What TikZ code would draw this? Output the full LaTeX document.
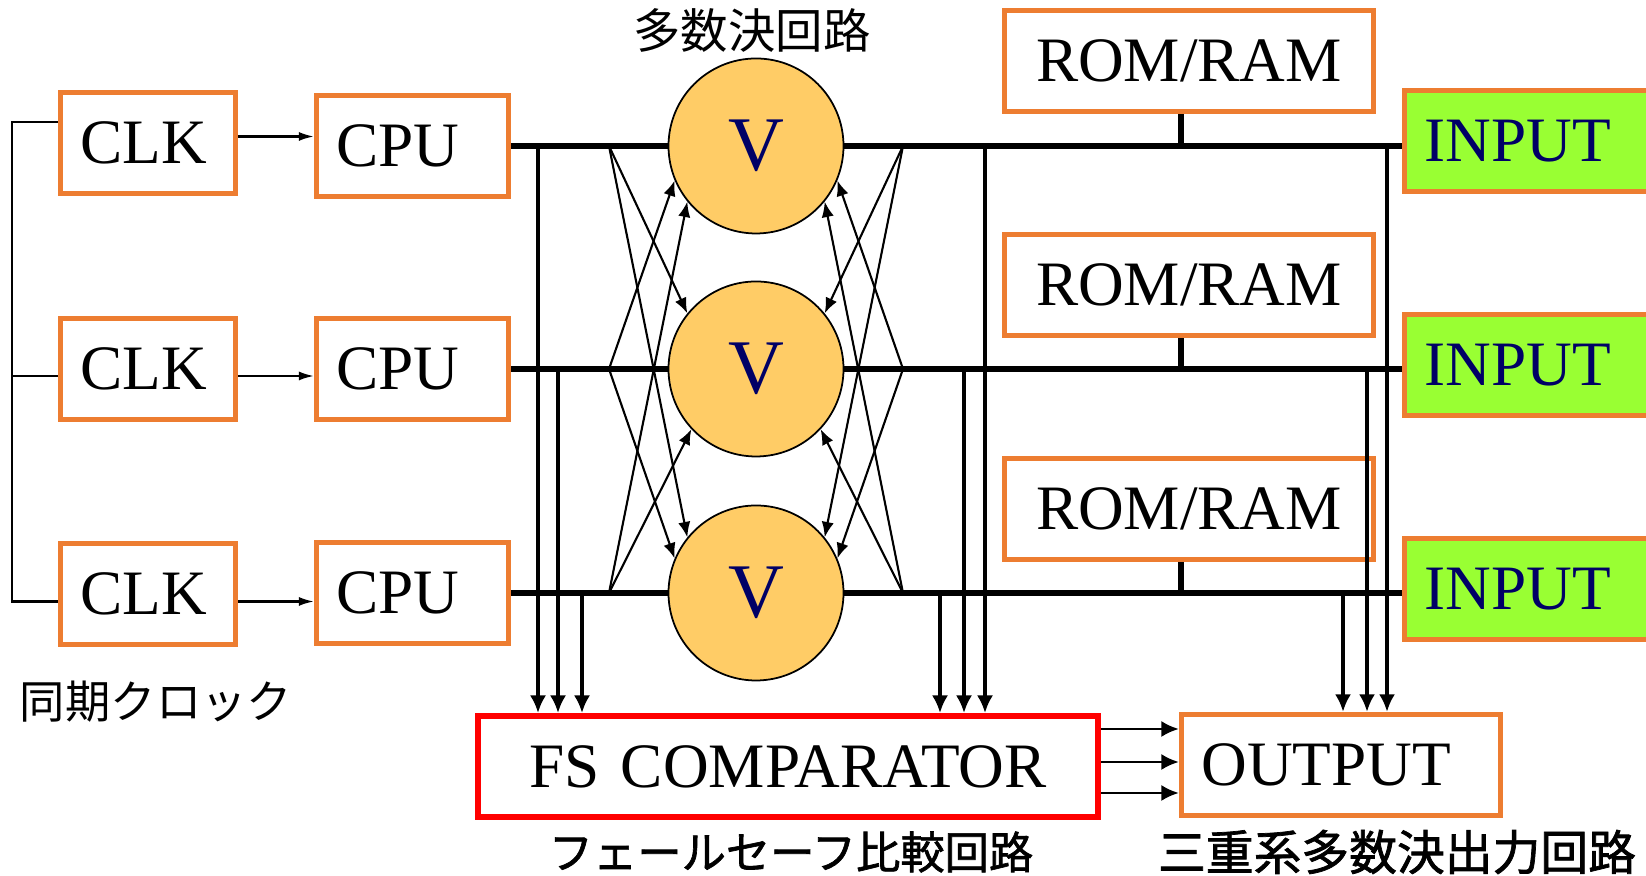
\documentclass[tikz,border=0pt]{standalone}
\usepackage{fontspec}
\setmainfont{Liberation Serif}
\newfontfamily\jpfont{Noto Sans CJK JP}
\newfontfamily\jpboldfont[FakeBold=1.5]{Noto Sans CJK JP}
\usetikzlibrary{arrows.meta}
\definecolor{boxorange}{RGB}{237,125,49}
\definecolor{votefill}{RGB}{255,204,102}
\definecolor{labelnavy}{RGB}{0,0,102}
\definecolor{inputgreen}{RGB}{153,255,51}
\begin{document}
\begin{tikzpicture}[
  unit/.style={draw=boxorange,line width=1.5pt,fill=white,minimum height=1.01cm,
    inner xsep=0.2cm,inner ysep=0pt,align=left,font=\fontsize{18}{20}\selectfont},
  inbox/.style={unit,fill=inputgreen,text=labelnavy,text width=2.2cm},
  voter/.style={circle,draw,line width=0.5pt,fill=votefill,minimum size=1.75cm,
    inner sep=0pt,text=labelnavy,font=\fontsize{22}{24}\selectfont},
  bus/.style={line width=1.45pt},
  tap/.style={line width=0.95pt,-{Latex[length=5pt,width=4.6pt]}},
  fan/.style={line width=0.6pt,-{Latex[length=4.4pt,width=3.5pt]}},
  clkline/.style={line width=0.6pt},
  jp/.style={font=\jpfont\fontsize{#1}{#1}\selectfont},
  jpb/.style={font=\jpboldfont\fontsize{#1}{#1}\selectfont},
]
\useasboundingbox (0,0) rectangle (16.46,8.76);
\clip (0,0) rectangle (16.46,8.76);

\node[unit,text width=1.35cm] (clk1) at (1.48,7.33) {CLK};
\node[unit,text width=1.35cm] (clk2) at (1.48,5.07) {CLK};
\node[unit,text width=1.35cm] (clk3) at (1.48,2.82) {CLK};
\node[unit,text width=1.52cm] (cpu1) at (4.125,7.30) {CPU};
\node[unit,text width=1.52cm] (cpu2) at (4.125,5.07) {CPU};
\node[unit,text width=1.52cm] (cpu3) at (4.125,2.83) {CPU};

\node[voter] (v1) at (7.56,7.30) {V};
\node[voter] (v2) at (7.56,5.07) {V};
\node[voter] (v3) at (7.56,2.83) {V};

\node[unit,text width=3.29cm,align=center] (rom1) at (11.89,8.15) {ROM/RAM};
\node[unit,text width=3.29cm,align=center] (rom2) at (11.89,5.91) {ROM/RAM};
\node[unit,text width=3.29cm,align=center] (rom3) at (11.89,3.67) {ROM/RAM};

\node[inbox] (in1) at (15.345,7.35) {INPUT};
\node[inbox] (in2) at (15.345,5.11) {INPUT};
\node[inbox] (in3) at (15.345,2.87) {INPUT};

\node[unit,draw=red,line width=1.7pt,text width=5.8cm,align=center] (fs) at (7.88,1.095) {FS COMPARATOR};
\node[unit,text width=2.79cm] (out) at (13.41,1.11) {OUTPUT};

\node[jp=13.5pt] (lblvote) at (7.52,8.45) {多数決回路};
\node[jp=12.9pt] (lblclk) at (1.56,1.74) {同期クロック};
\node[jpb=12.6pt] (lblfs) at (7.91,0.24) {フェールセーフ比較回路};
\node[jpb=13.6pt] (lblout) at (13.97,0.24) {三重系多数決出力回路};

% clock distribution
\draw[clkline] ([yshift=0.21cm]clk1.west) -- ++(-0.46,0) |- ([yshift=-0.075cm]clk3.west);
\draw[clkline] ([yshift=-0.07cm]clk2.west) -- ++(-0.46,0);
\foreach \r/\dy in {1/0.065,2/-0.07,3/-0.075}
  \draw[clkline,-{Latex[length=4.3pt,width=2.6pt]}] ([yshift=\dy cm]clk\r.east) -- ([yshift=\dy cm]clk\r.east -| cpu\r.west);

% buses
\foreach \r in {1,2,3} {
  \coordinate (b\r) at (v\r -| in\r.west);
  \coordinate (lf\r) at ([xshift=-1.47cm]v\r.center);
  \coordinate (rf\r) at ([xshift=1.47cm]v\r.center);
  \draw[bus] (cpu\r.east) -- (v\r.west);
  \draw[bus] (v\r.east) -- (b\r);
  \draw[bus] ([xshift=-0.08cm]rom\r.south) -- ([xshift=-0.08cm]rom\r.south |- b\r);
}

% voter cross links
\draw[fan] (lf1) -- (v2.141);
\draw[fan] (lf1) -- (v3.141);
\draw[fan] (lf2) -- (v1.203);
\draw[fan] (lf2) -- (v3.157);
\draw[fan] (lf3) -- (v1.219);
\draw[fan] (lf3) -- (v2.223);
\draw[fan] (rf1) -- (v2.39);
\draw[fan] (rf1) -- (v3.39);
\draw[fan] (rf2) -- (v1.337);
\draw[fan] (rf2) -- (v3.23);
\draw[fan] (rf3) -- (v1.321);
\draw[fan] (rf3) -- (v2.317);

% taps to comparator and output
\foreach \x/\r in {5.38/1,5.58/2,5.82/3,9.85/1,9.64/2,9.40/3} {
  \coordinate (tf) at (\x,0 |- v\r);
  \draw[tap] (tf) -- (tf |- fs.north);
}
\foreach \x/\r in {13.87/1,13.67/2,13.43/3} {
  \coordinate (to) at (\x,0 |- v\r);
  \draw[tap] (to) -- (to |- out.north);
}
\foreach \dy in {0.375,0.045,-0.265}
  \draw[tap,line width=0.8pt] ([yshift=\dy cm]fs.east) -- ([yshift=\dy cm]fs.east -| out.west);
\end{tikzpicture}
\end{document}
